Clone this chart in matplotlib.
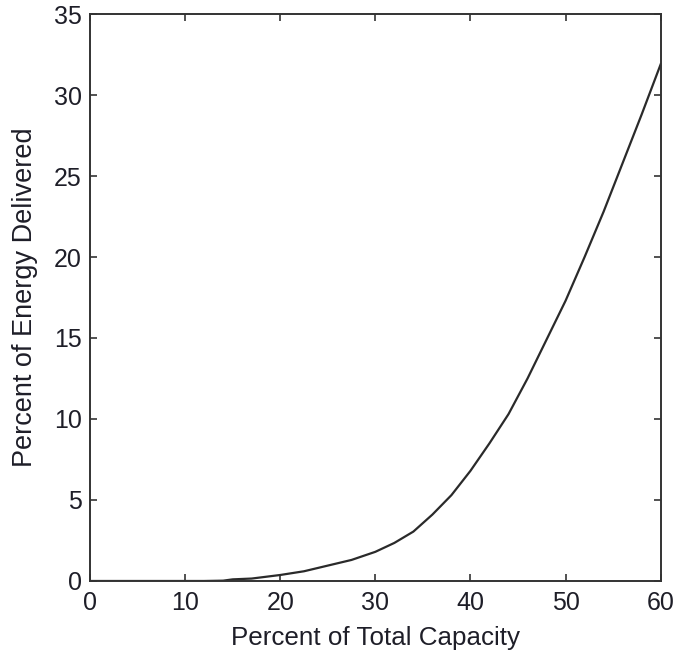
import matplotlib
matplotlib.use("Agg")
import matplotlib.pyplot as plt

capacity = [0, 2, 4, 6, 8, 10, 12, 14, 15, 17, 20, 22.5, 25, 27.5, 30, 32, 34, 36,
            38, 40, 42, 44, 46, 48, 50, 52, 54, 56, 58, 60]
energy = [0.0, 0.0, 0.0, 0.0, 0.0, 0.0, 0.0, 0.02, 0.1, 0.15, 0.37, 0.6, 0.95, 1.3,
          1.8, 2.35, 3.05, 4.1, 5.3, 6.8, 8.5, 10.3, 12.5, 14.9, 17.3, 20.0, 22.8,
          25.8, 28.8, 31.9]
xticks = [0, 10, 20, 30, 40, 50, 60]
yticks = [0, 5, 10, 15, 20, 25, 30, 35]

plt.rcParams['font.family'] = ['Liberation Sans', 'DejaVu Sans']
fig = plt.figure(figsize=(6.73, 6.55), dpi=100)
ax = fig.add_axes([0.1337, 0.113, 0.848, 0.8656])
ax.plot(capacity, energy, color='#2a2a2a', lw=1.6, solid_joinstyle='round')
ax.set_xlim(0, 60)
ax.set_ylim(0, 35)
ax.set_xticks(xticks)
ax.set_yticks(yticks)
txtc = '#1e1e28'
ax.tick_params(direction='in', top=True, right=True, length=5, width=1.2,
               labelsize=18, colors='#333333', labelcolor=txtc)
ax.tick_params(axis='x', pad=7)
ax.tick_params(axis='y', pad=6)
for s in ax.spines.values():
    s.set_linewidth(1.4)
    s.set_color('#333333')
ax.set_xlabel('Percent of Total Capacity', fontsize=18.7, color=txtc, labelpad=8)
ax.set_ylabel('Percent of Energy Delivered', fontsize=19.5, color=txtc, labelpad=11)
fig.savefig('out.png', dpi=100)
